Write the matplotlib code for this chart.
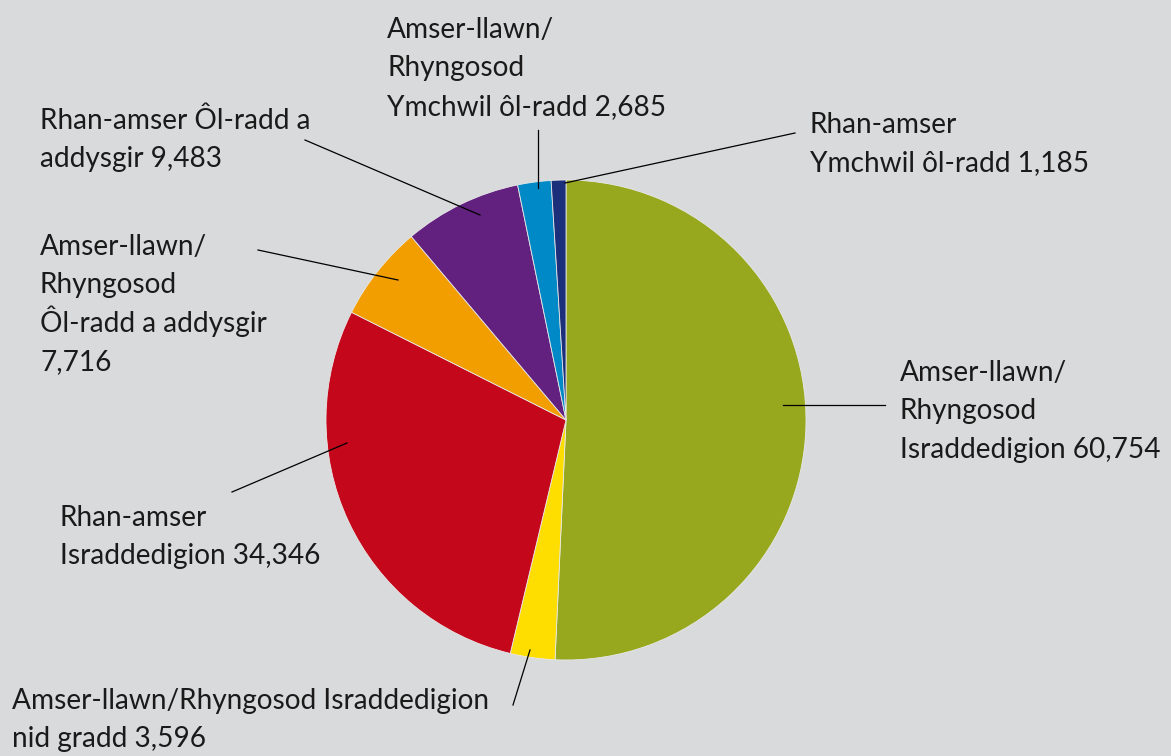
import matplotlib.pyplot as plt

# data
labels = ["Amser-llawn/\nRhyngosod\nIsraddedigion 60,754",
          "Amser-llawn/Rhyngosod Israddedigion\nnid gradd 3,596",
          "Rhan-amser\nIsraddedigion 34,346",
          "Amser-llawn/\nRhyngosod\nÔl-radd a addysgir\n7,716",
          "Rhan-amser Ôl-radd a\naddysgir 9,483",
          "Amser-llawn/\nRhyngosod\nYmchwil ôl-radd 2,685",
          "Rhan-amser\nYmchwil ôl-radd 1,185"]
values = [60754, 3596, 34346, 7716, 9483, 2685, 1185]
colors = ["#97a81e", "#fedd00", "#c4071b", "#f29d00", "#62217f", "#0089c7", "#1b2f7b"]

# label placement (pixel coords from top-left): line start, line end, first baseline
line_from = [(783, 405), (530, 650), (347, 443), (398, 280), (480, 215), (538, 188), (565, 183)]
line_to = [(885, 405), (513, 705), (232, 492), (258, 250), (305, 140), (538, 130), (795, 133)]
text_pos = [(900, 381), (12, 709), (60, 526), (40, 255), (40, 129), (387, 38), (810, 133)]
line_gap = 38.3

W, H = 1171, 756
bg = "#d9dadb"

fig = plt.figure(figsize=(W / 100, H / 100), dpi=100, facecolor=bg)
ax = fig.add_axes([0, 0, 1, 1])
ax.set_facecolor(bg)

ax.pie(values, colors=colors, startangle=90, counterclock=False,
       center=(566, H - 420), radius=240, frame=True,
       wedgeprops=dict(linewidth=0.6, edgecolor="#e8e8e8"))
ax.set_xlim(0, W)
ax.set_ylim(0, H)
ax.axis("off")

for lab, p0, p1, tp in zip(labels, line_from, line_to, text_pos):
    ax.plot([p0[0], p1[0]], [H - p0[1], H - p1[1]], color="black", lw=0.9)
    for i, row in enumerate(lab.split("\n")):
        ax.text(tp[0], H - tp[1] - i * line_gap, row, ha="left", va="baseline",
                fontsize=20.2, family="Lato", color="#1a1a1a")

fig.savefig("out.png", dpi=100, facecolor=bg)
